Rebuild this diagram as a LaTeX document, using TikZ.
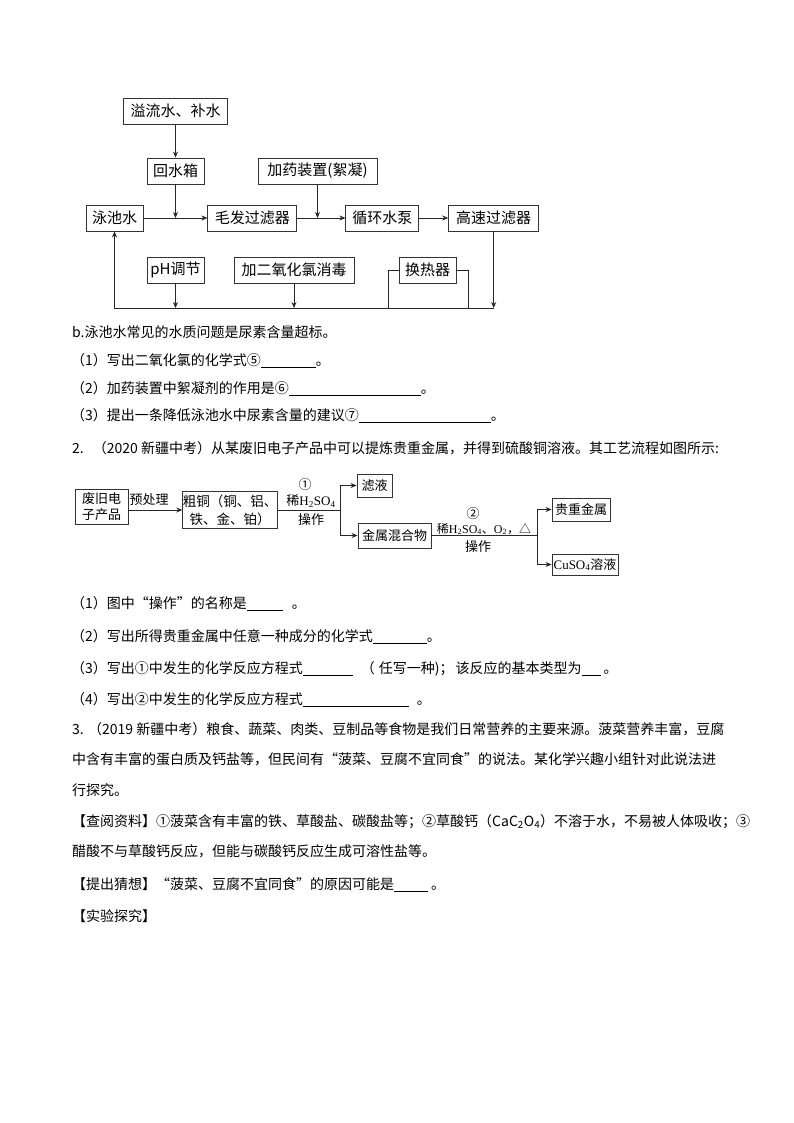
\documentclass[tikz,border=0pt]{standalone}
\usepackage{fontspec}
\setmainfont{Noto Sans CJK SC}
\newfontfamily\latinserif{Liberation Serif}
\usetikzlibrary{positioning,arrows.meta}
\newcommand{\blankfill}[1]{\rule[-2.5pt]{#1pt}{0.7pt}}
\tikzset{
	wire/.style={draw=black!85,line width=0.8pt},
	flow/.style={wire,-{Stealth[length=6pt,width=5pt]}},
	bigbox/.style={draw=black!80,line width=0.9pt,font=\fontsize{15}{15}\selectfont,minimum height=26pt,inner sep=0pt},
	smallbox/.style={draw=black!80,line width=0.9pt,font=\fontsize{13}{16}\selectfont,inner sep=0pt,align=center},
	onedge/.style={font=\fontsize{13}{13}\selectfont,inner sep=0pt},
	textline/.style={anchor=west,inner sep=0pt,text height=11pt,text depth=3pt,font=\fontsize{14}{14}\selectfont},
}
\begin{document}
\begin{tikzpicture}[x=1pt,y=-1pt]
	\useasboundingbox (0,0) rectangle (794,1123);
	%% fig pool
	\node[bigbox,minimum width=57pt] (pool) at (114.5,218) {泳池水};
	\node[bigbox,minimum width=89pt,right =64pt of pool] (hair) {毛发过滤器};
	\node[bigbox,minimum width=73pt,right =48pt of hair] (pump) {循环水泵};
	\node[bigbox,minimum width=90pt,right =29pt of pump] (fast) {高速过滤器};
	\node[bigbox,minimum width=57pt] (tank) at (175.5,171) {回水箱};
	\node[bigbox,minimum width=104pt,above =33pt of tank] (over) {溢流水、补水};
	\node[bigbox,minimum width=119pt] (dose) at (317.5,171) {加药装置(絮凝)};
	\node[bigbox,minimum width=57pt] (ph) at (175.5,270) {pH调节};
	\node[bigbox,minimum width=120pt] (chlor) at (294,270) {加二氧化氯消毒};
	\node[bigbox,minimum width=57pt] (heat) at (427.5,270) {换热器};
	\coordinate (j1) at (tank |- pool);
	\coordinate (j2) at (dose |- pool);
	\coordinate (lowl) at (pool.south |- 0,308);
	\coordinate (lowr) at (fast.south |- 0,308);
	\coordinate (lowp) at (ph |- lowl);
	\coordinate (lowc) at (chlor |- lowl);
	\coordinate (loopl) at (388,308);
	\coordinate (loopr) at (468,308);
	% upper row
	\draw[flow] (over) -- (tank);
	\draw[flow] (tank) -- (j1);
	\draw[flow] (dose) -- (j2);
	\draw[flow] (pool) -- (hair);
	\draw[flow] (hair) -- (pump);
	\draw[flow] (pump) -- (fast);
	% return line
	\draw[flow] (fast) -- (lowr);
	\draw[flow] (lowr) -- (lowl) -- (pool);
	\draw[flow] (ph) -- (lowp);
	\draw[flow] (chlor) -- (lowc);
	\draw[wire] (loopl) |- (heat.west);
	\draw[wire] (loopr) |- (heat.east);

	%% text one
	\node[textline] (t1) at (72,333) {b.泳池水常见的水质问题是尿素含量超标。};
	\node[textline] (t2) at (71,361) {（1）写出二氧化氯的化学式⑤\blankfill{55}。};
	\node[textline] (t3) at (71,389) {（2）加药装置中絮凝剂的作用是⑥\blankfill{132}。};
	\node[textline] (t4) at (71,416) {（3）提出一条降低泳池水中尿素含量的建议⑦\blankfill{132}。};
	\node[textline] (t5) at (72,449) {2.\hspace{9pt}（2020 新疆中考）从某废旧电子产品中可以提炼贵重金属，并得到硫酸铜溶液。其工艺流程如图所示:};

	%% fig metal
	\node[smallbox,minimum width=53pt,minimum height=35pt] (waste) at (101.5,507) {废旧电\\子产品};
	\node[smallbox,font=\fontsize{13.5}{18}\selectfont,minimum width=92pt,minimum height=37pt] (crude) at (230,510) {粗铜（铜、铝、\\铁、金、铂）};
	\node[smallbox,minimum width=35pt,minimum height=23pt] (filt) at (374.5,485.5) {滤液};
	\node[smallbox,minimum width=73pt,minimum height=25pt] (mix) at (394.5,535.5) {金属混合物};
	\node[smallbox,minimum width=58pt,minimum height=23pt] (noble) at (581,509.5) {贵重金属};
	\node[smallbox,minimum width=66pt,minimum height=21pt] (cuso) at (585,564.5) {{\latinserif CuSO\textsubscript{4}}溶液};
	\coordinate (s1) at (340,510);
	\coordinate (s2) at (537,535.5);
	\node[onedge] (pre) at (149,500) {预处理};
	\node[onedge] (c1) at (305,485) {①};
	\node[onedge] (acid1) at (311,501) {稀{\latinserif H\textsubscript{2}SO\textsubscript{4}}};
	\node[onedge] (op1) at (311,520) {操作};
	\node[onedge] (c2) at (473,514) {②};
	\node[onedge,font=\fontsize{12}{12}\selectfont] (acid2) at (484,529) {稀{\latinserif H\textsubscript{2}SO\textsubscript{4}}、{\latinserif O\textsubscript{2}}，△};
	\node[onedge] (op2) at (478,547) {操作};
	\draw[flow] (waste.east |- crude.west) -- (crude.west);
	\draw[wire] (crude.east) -- (s1);
	\draw[flow] (s1) |- (filt.west);
	\draw[flow] (s1) |- (mix.west);
	\draw[wire] (mix.east) -- (s2);
	\draw[flow] (s2) |- (noble.west);
	\draw[flow] (s2) |- (cuso.west);

	%% text two
	\node[textline] (q1) at (71,604) {（1）图中“操作”的名称是\blankfill{36}\hspace{9pt}。};
	\node[textline] (q2) at (71,637) {（2）写出所得贵重金属中任意一种成分的化学式\blankfill{54}。};
	\node[textline] (q3) at (71,669) {（3）写出①中发生的化学反应方程式\blankfill{50}\hspace{8pt}（\hspace{4pt}任写一种)；\hspace{2pt}该反应的基本类型为\blankfill{19}\hspace{3pt}。};
	\node[textline] (q4) at (71,700) {（4）写出②中发生的化学反应方程式\blankfill{106}\hspace{8pt}。};
	\node[textline] (r1) at (72,730) {3. （2019 新疆中考）粮食、蔬菜、肉类、豆制品等食物是我们日常营养的主要来源。菠菜营养丰富，豆腐};
	\node[textline] (r2) at (72,760) {中含有丰富的蛋白质及钙盐等，但民间有“菠菜、豆腐不宜同食”的说法。某化学兴趣小组针对此说法进};
	\node[textline] (r3) at (72,791) {行探究。};
	\node[textline] (r4) at (72,822) {【查阅资料】①菠菜含有丰富的铁、草酸盐、碳酸盐等；②草酸钙（CaC\textsubscript{2}O\textsubscript{4}）不溶于水，不易被人体吸收；③};
	\node[textline] (r5) at (72,852) {醋酸不与草酸钙反应，但能与碳酸钙反应生成可溶性盐等。};
	\node[textline] (r6) at (72,885) {【提出猜想】“菠菜、豆腐不宜同食”的原因可能是\blankfill{34}\hspace{3pt}。};
	\node[textline] (r7) at (72,917) {【实验探究】};
\end{tikzpicture}
\end{document}
